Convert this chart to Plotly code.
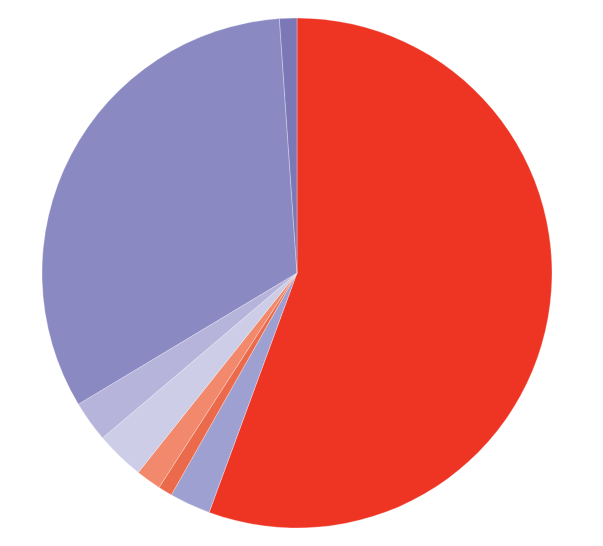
import plotly.graph_objects as go

labels = ["A", "B", "C", "D", "E", "F", "G", "H"]
values = [55.6, 2.6, 0.9, 1.6, 3.1, 2.6, 32.5, 1.1]
colors = ["#EE3524", "#9EA0D2", "#EC6A4C", "#F2896C", "#CDCDE8",
          "#B6B4DA", "#8A89C2", "#7A78B6"]

fig = go.Figure()

fig.add_trace(
    go.Pie(labels=labels, values=values,
           sort=False, direction='clockwise', rotation=0,
           marker=dict(colors=colors, line=dict(color='white', width=0.3)),
           textinfo='none', hoverinfo='label+percent',
           showlegend=False)
)

fig.update_layout(
    width=603, height=546,
    margin=dict(l=34, r=59, t=10, b=26),
    paper_bgcolor='white',
    plot_bgcolor='white',
)

fig.write_html("out.html")
